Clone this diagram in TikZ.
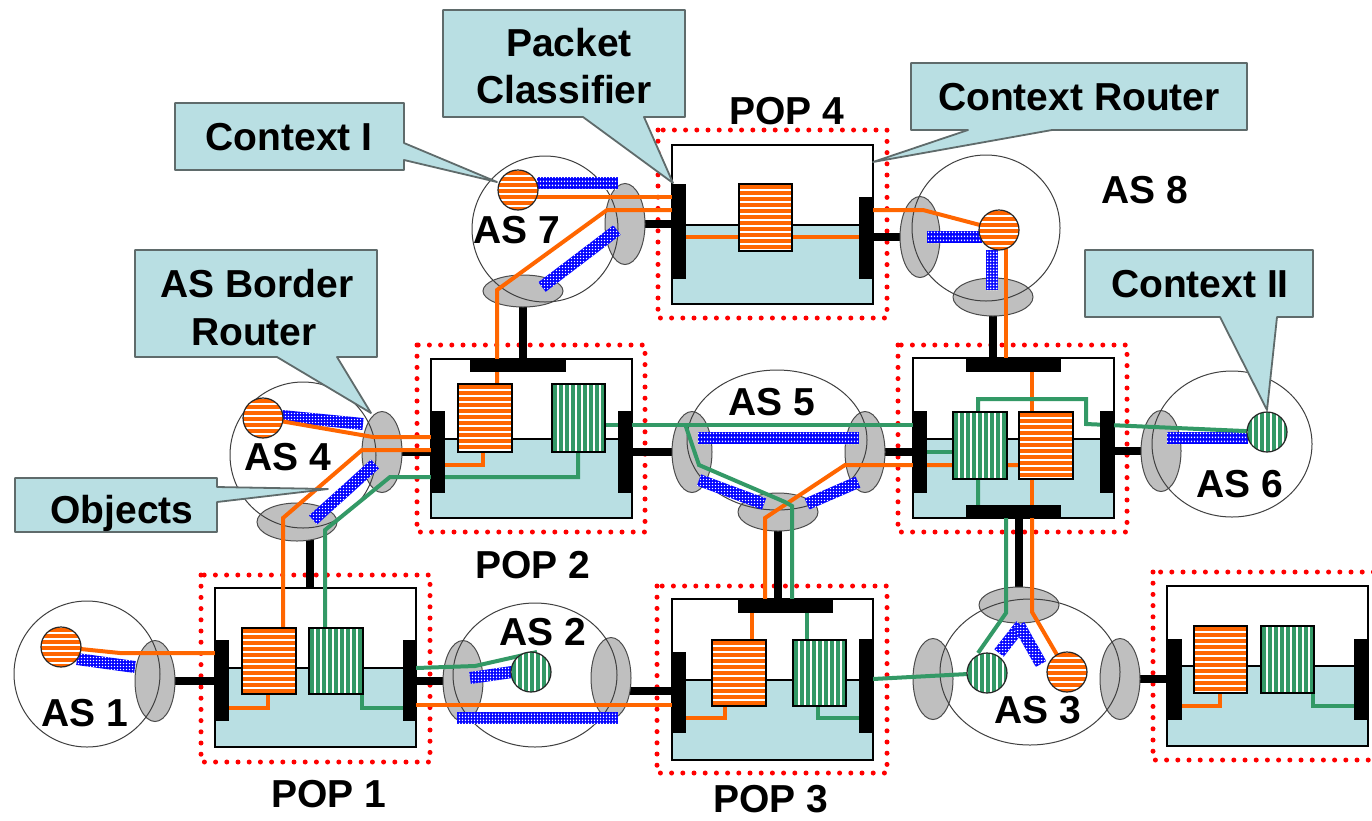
\documentclass[tikz,border=0pt]{standalone}
\usepackage{fontspec}
\setmainfont{Liberation Sans}
\usetikzlibrary{shapes.geometric,patterns,calc}
\definecolor{OR}{RGB}{255,102,0}
\definecolor{GR}{RGB}{51,153,102}
\definecolor{LB}{RGB}{185,223,227}
\definecolor{EG}{RGB}{191,191,191}
\definecolor{CG}{RGB}{95,107,107}
\definecolor{BL}{RGB}{0,0,255}
\definecolor{RD}{RGB}{255,0,0}
\pgfdeclarepatternformonly{bmesh}{\pgfqpoint{0pt}{0pt}}{\pgfqpoint{3.4pt}{3.4pt}}{\pgfqpoint{3.4pt}{3.4pt}}{\pgfpathrectangle{\pgfqpoint{1pt}{1pt}}{\pgfqpoint{1.6pt}{1.6pt}}\pgfusepath{fill}}
\pgfdeclarelayer{bg}\pgfdeclarelayer{conn}\pgfdeclarelayer{ell}\pgfdeclarelayer{blu}\pgfdeclarelayer{col}\pgfdeclarelayer{fg}
\pgfsetlayers{bg,conn,ell,blu,col,main,fg}
\newcommand\blubar[2]{\path[blubar] ($#1!6pt!90:#2$) -- ($#2!6pt!-90:#1$) -- ($#2!6pt!90:#1$) -- ($#1!6pt!-90:#2$) -- cycle;}
\newcommand\popbox[5]{\fill[white] (#1,#2) rectangle (#3,#5); \fill[LB] (#1,#4) rectangle (#3,#5); \draw[line width=1.2pt] (#1,#4) -- (#3,#4); \draw[line width=2pt] (#1,#2) rectangle (#3,#5);}
\newcommand\rnode[6]{\node[#2, minimum width={#5-#3}, minimum height={#6-#4}] (#1) at ({(#3+#5)/2},{(#4+#6)/2}) {};}
\tikzset{
  hstr/.style={fill=white, path picture={\foreach \k in {0,...,11}{\fill[OR] ([yshift=-\k*6pt-1.2pt]path picture bounding box.north west) rectangle ([yshift=-\k*6pt-5pt]path picture bounding box.north east);}}},
  vstr/.style={fill=white, path picture={\foreach \k in {0,...,9}{\fill[GR] ([xshift=\k*6pt+1.4pt]path picture bounding box.north west) rectangle ([xshift=\k*6pt+4.6pt]path picture bounding box.south west);}}},
  bar/.style={rectangle, fill=black, inner sep=0pt, outer sep=0pt, draw=none},
  osq/.style={rectangle, inner sep=0pt, outer sep=0pt, draw=black, line width=1.5pt, hstr},
  gsq/.style={rectangle, inner sep=0pt, outer sep=0pt, draw=black, line width=1.5pt, vstr},
  ocirc/.style={circle, inner sep=0pt, minimum size=40pt, draw=black!85, line width=1.2pt, hstr},
  gcirc/.style={circle, inner sep=0pt, minimum size=40pt, draw=black!85, line width=1.2pt, vstr},
  vell/.style={ellipse, inner sep=0pt, minimum width=40pt, minimum height=81pt, fill=EG, draw=black!70, line width=1pt},
  hell/.style={ellipse, inner sep=0pt, minimum width=80pt, minimum height=38pt, fill=EG, draw=black!70, line width=1pt},
  asol/.style={ellipse, inner sep=0pt, draw=black!75, line width=1pt},
  blk/.style={line width=8pt, black},
  oln/.style={line width=4pt, OR},
  gln/.style={line width=4pt, GR},
  blubar/.style={preaction={fill=BL}, pattern=bmesh, pattern color=white},
  reddots/.style={RD, line width=5pt, dash pattern=on 0pt off 11.2pt, line cap=round},
  callout/.style={fill=LB, draw=CG, line width=1.8pt, line join=round},
  lbl/.style={font=\fontsize{39}{47}\selectfont\bfseries, anchor=base, inner sep=0pt}
}
\begin{document}
\begin{tikzpicture}[x=1pt,y=-1pt]
\useasboundingbox (0,0) rectangle (1372,820);
\clip (0,0) rectangle (1372,820);
% POP boxes
\begin{pgfonlayer}{bg}
\fill[white] (0,0) rectangle (1372,820);
\popbox{215}{588}{416}{668}{747}
\popbox{431}{359}{632}{439}{518}
\popbox{672}{599}{873}{680}{760}
\popbox{672}{145}{873}{225}{304}
\popbox{913}{358}{1114}{439}{518}
\popbox{1167}{586}{1368}{666}{746}
\draw[reddots] (201,575) rectangle (430,762);
\draw[reddots] (417,345) rectangle (645,532);
\draw[reddots] (657,586) rectangle (887,773);
\draw[reddots] (658,130) rectangle (887,318);
\draw[reddots] (898,345) rectangle (1127,532);
\draw[reddots] (1153,572) rectangle (1400,760);
\end{pgfonlayer}
% bars and squares
\rnode{p1L}{bar}{215}{640}{229}{721}
\rnode{p1R}{bar}{403}{640}{416}{721}
\rnode{p2T}{bar}{470}{359}{566}{372}
\rnode{p2L}{bar}{431}{411}{445}{493}
\rnode{p2R}{bar}{618}{411}{632}{493}
\rnode{p3T}{bar}{738}{599}{833}{613}
\rnode{p3L}{bar}{672}{652}{686}{733}
\rnode{p3R}{bar}{859}{639}{873}{733}
\rnode{p4L}{bar}{672}{184}{686}{279}
\rnode{p4R}{bar}{859}{197}{873}{279}
\rnode{p5T}{bar}{966}{358}{1061}{372}
\rnode{p5B}{bar}{966}{505}{1061}{518}
\rnode{p5L}{bar}{913}{411}{927}{493}
\rnode{p5R}{bar}{1100}{411}{1114}{493}
\rnode{p6L}{bar}{1167}{639}{1182}{720}
\rnode{p6R}{bar}{1354}{639}{1368}{720}
\rnode{p1o}{osq}{242}{628}{296}{694}
\rnode{p1g}{gsq}{309}{628}{363}{694}
\rnode{p2o}{osq}{458}{384}{512}{452}
\rnode{p2g}{gsq}{552}{384}{605}{452}
\rnode{p3o}{osq}{712}{640}{766}{706}
\rnode{p3g}{gsq}{793}{640}{846}{706}
\rnode{p4o}{osq}{739}{184}{792}{251}
\rnode{p5g}{gsq}{953}{412}{1007}{479}
\rnode{p5o}{osq}{1019}{412}{1073}{479}
\rnode{p6o}{osq}{1194}{626}{1247}{693}
\rnode{p6g}{gsq}{1261}{626}{1314}{693}
% gray ellipses and AS outlines
\begin{pgfonlayer}{ell}
\node[vell] (a1e) at (155,681) {};
\node[vell] (a4r) at (382,452) {};
\node[hell] (a4b) at (297,522) {};
\node[vell] (a7r) at (625,224) {};
\node[hell, minimum height=32pt] (a7b) at (523,291) {};
\node[vell] (a8l) at (920,237) {};
\node[hell] (a8b) at (993,297) {};
\node[vell] (a5l) at (692,452) {};
\node[vell] (a5r) at (865,452) {};
\node[hell] (a5b) at (778,512) {};
\node[vell] (a2l) at (463,681) {};
\node[vell] (a2r) at (611,678) {};
\node[vell] (a6l) at (1161,451) {};
\node[vell] (a3l) at (933,679) {};
\node[vell] (a3r) at (1120,679) {};
\node[hell, minimum height=36pt] (a3t) at (1019,605) {};
\node[asol, minimum width=146pt, minimum height=146pt] (a1o) at (87,674) {};
\node[asol, minimum width=146pt, minimum height=146pt] (a4o) at (303,455) {};
\node[asol, minimum width=146pt, minimum height=146pt] (a7o) at (545,229) {};
\node[asol, minimum width=148pt, minimum height=146pt] (a8o) at (986,228) {};
\node[asol, minimum width=180pt, minimum height=140pt] (a5o) at (777,440) {};
\node[asol, minimum width=164pt, minimum height=144pt] (a2o) at (535,675) {};
\node[asol, minimum width=180pt, minimum height=146pt] (a3o) at (1030,672) {};
\node[asol, minimum width=160pt, minimum height=146pt] (a6o) at (1232,444) {};
\end{pgfonlayer}
% black connectors
\begin{pgfonlayer}{conn}
\draw[blk] (a1e.center) -- (a1e.center -| p1L.west);
\draw[blk] (a2l.center) -- (a2l.center -| p1R.east);
\draw[blk] (611,691) -- (p3L.west |- 611,691);
\draw[blk] (a3r.center) -- (a3r.center -| p6L.west);
\draw[blk] (310,525) -- (310,587);
\draw[blk] (a4r.center) -- (a4r.center -| p2L.west);
\draw[blk] (a7b.center) -- (a7b.center |- p2T.north);
\draw[blk] (a7r.center) -- (a7r.center -| p4L.west);
\draw[blk] (a8l.center) -- (a8l.center -| p4R.east);
\draw[blk] (a8b.center) -- (a8b.center |- p5T.north);
\draw[blk] (a5l.center) -- (a5l.center -| p2R.east);
\draw[blk] (a5r.center) -- (a5r.center -| p5L.west);
\draw[blk] (a6l.center) -- (a6l.center -| p5R.east);
\draw[blk] (a5b.center) -- (a5b.center |- p3T.north);
\draw[blk] (a3t.center) -- (a3t.center |- p5B.south);
\end{pgfonlayer}
% blue object bars
\begin{pgfonlayer}{blu}
\blubar{(77,659)}{(135,667)}
\blubar{(282,416)}{(363,424)}
\blubar{(375,464)}{(313,520)}
\blubar{(537,183)}{(618,183)}
\blubar{(617,230)}{(542,287)}
\blubar{(927,237)}{(982,237)}
\blubar{(992,250)}{(992,290)}
\blubar{(698,438)}{(859,438)}
\blubar{(699,480)}{(764,504)}
\blubar{(807,504)}{(858,482)}
\blubar{(470,678)}{(512,672)}
\blubar{(457,718)}{(618,718)}
\blubar{(1167,438)}{(1248,438)}
\blubar{(999,653)}{(1021,625)}
\blubar{(1019,625)}{(1041,664)}
\end{pgfonlayer}
% context circles
\node[ocirc] (c1) at (61,647) {};
\node[ocirc] (c4) at (263,418) {};
\node[ocirc] (c7) at (518,190) {};
\node[ocirc] (c8) at (999,230) {};
\node[gcirc] (c2) at (531,672) {};
\node[gcirc] (c6) at (1267,432) {};
\node[gcirc] (c3g) at (987,673) {};
\node[ocirc] (c3o) at (1067,672) {};
% coloured paths
\begin{pgfonlayer}{col}
\draw[oln] (c1.center) -- (120,653) -- (p1L.west |- 120,653);
\draw[oln] (268,694) -- (268,708) -- (229,708);
\draw[oln] (c4.center) -- (373,437) -- (431,437);
\draw[oln] (283,628) -- (283,518) -- (362,450) -- (431,450);
\draw[oln] (483,452) -- (483,465) -- (445,465);
\draw[oln] (497,384) -- (497,290) -- (607,210) -- (672,210);
\draw[oln] (518,197) -- (672,197);
\draw[oln] (686,237) -- (859,237);
\draw[oln] (873,210) -- (923,210) -- (c8.center);
\draw[oln] (1006,235) -- (1006,358);
\draw[oln] (1032,372) -- (1032,412);
\draw[oln] (1032,479) -- (1032,505);
\draw[oln] (1032,518) -- (1032,612) -- (c3o.center);
\draw[oln] (765,599) -- (765,518) -- (845,465) -- (1019,465);
\draw[oln] (752,613) -- (752,640);
\draw[oln] (725,706) -- (725,718) -- (686,718);
\draw[oln] (416,705) -- (672,705);
\draw[oln] (1220,693) -- (1220,706) -- (1182,706);
\draw[gln] (325,628) -- (325,530) -- (390,477) -- (578,477) -- (578,452);
\draw[gln] (362,694) -- (362,708) -- (403,708);
\draw[gln] (416,668) -- (475,666) -- (537,652);
\draw[gln] (605,425) -- (913,425);
\draw[gln] (685,424) -- (699,465) -- (785,502) -- (792,506) -- (792,599);
\draw[gln] (807,613) -- (807,640);
\draw[gln] (818,706) -- (818,718) -- (859,718);
\draw[gln] (873,679) -- (c3g.center);
\draw[gln] (927,452) -- (953,452);
\draw[gln] (c6.center) -- (1086,424) -- (1086,399) -- (978,399) -- (978,505);
\draw[gln] (1006,518) -- (1006,613) -- (978,653);
\draw[gln] (1313,693) -- (1313,706) -- (1354,706);
\end{pgfonlayer}
% labels and callouts
\begin{pgfonlayer}{fg}
\node[lbl] (l4) at (787,124) {POP 4};
\node[lbl] (l2) at (533,578) {POP 2};
\node[lbl] (l1) at (329,807) {POP 1};
\node[lbl] (l3) at (771,812) {POP 3};
\node[lbl] (s7) at (517,243) {AS 7};
\node[lbl] (s8) at (1145,203) {AS 8};
\node[lbl] (s4) at (288,470) {AS 4};
\node[lbl] (s1) at (85,726) {AS 1};
\node[lbl] (s2) at (543,645) {AS 2};
\node[lbl] (s5) at (772,415) {AS 5};
\node[lbl] (s6) at (1240,497) {AS 6};
\node[lbl] (s3) at (1038,723) {AS 3};
\path[callout] (175,103) -- (404,103) -- (404,143) -- (497,182) -- (404,160) -- (404,170) -- (175,170) -- cycle;
\path[callout] (443,10) -- (685,10) -- (685,117) -- (644,117) -- (673,183) -- (583,117) -- (443,117) -- cycle;
\path[callout] (911,63) -- (1247,63) -- (1247,130) -- (1052,130) -- (873,162) -- (968,130) -- (911,130) -- cycle;
\path[callout] (135,250) -- (377,250) -- (377,357) -- (337,357) -- (371,413) -- (277,357) -- (135,357) -- cycle;
\path[callout] (15,478) -- (217,478) -- (217,487) -- (328,489) -- (217,502) -- (217,532) -- (15,532) -- cycle;
\path[callout] (1085,250) -- (1313,250) -- (1313,317) -- (1277,317) -- (1267,410) -- (1220,317) -- (1085,317) -- cycle;
\node[lbl] (k1) at (289,150) {Context I};
\node[lbl] (k2a) at (569,56) {Packet};
\node[lbl] (k2b) at (564,103) {Classifier};
\node[lbl] (k3) at (1079,110) {Context Router};
\node[lbl] (k4a) at (257,297) {AS Border};
\node[lbl] (k4b) at (254,345) {Router};
\node[lbl] (k5) at (122,523) {Objects};
\node[lbl] (k6) at (1200,297) {Context II};
\end{pgfonlayer}
\end{tikzpicture}
\end{document}
